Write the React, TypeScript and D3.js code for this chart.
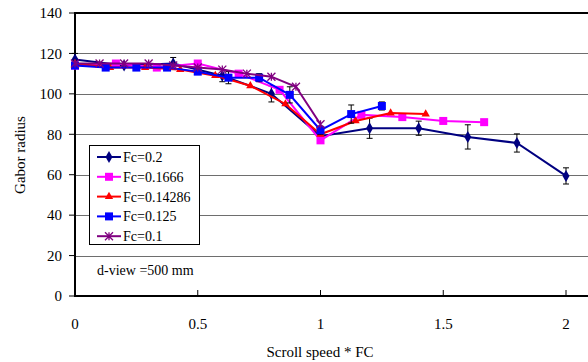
import { useEffect, useRef } from 'react';
import * as d3 from 'd3';

// Fc = 0.2 (navy diamonds, with error bars)
const fc02X = [0, 0.2, 0.4, 0.6, 0.8, 1.0, 1.2, 1.4, 1.6, 1.8, 2.0];
const fc02Y = [117, 114, 115, 109, 100, 79, 83, 83, 78.7, 75.7, 59.4];
const fc02Err = [3, 1, 3, 3, 4, 3, 5, 3.5, 6, 4.5, 4];

// Fc = 0.1666 (magenta squares)
const fc1666X = [0, 0.1666, 0.3333, 0.5, 0.6666, 0.8333, 1.0, 1.1666, 1.3333, 1.5, 1.6666];
const fc1666Y = [114, 115, 113, 115, 110, 102, 77, 89.6, 88.5, 86.6, 86];

// Fc = 0.14286 (red triangles)
const fc14X = [0, 0.14286, 0.28571, 0.42857, 0.57143, 0.71429, 0.85714, 1.0, 1.14286, 1.28571, 1.42857];
const fc14Y = [115, 113, 113, 112, 109, 104, 95, 80, 86.6, 90.5, 90];

// Fc = 0.125 (blue squares, with error bars)
const fc125X = [0, 0.125, 0.25, 0.375, 0.5, 0.625, 0.75, 0.875, 1.0, 1.125, 1.25];
const fc125Y = [114, 113, 113, 113, 111, 108, 108, 99.5, 82, 90, 94];
const fc125Err = [0, 0, 0, 0, 0, 3, 2, 4, 2, 4.5, 2];

// Fc = 0.1 (purple asterisks)
const fc01X = [0, 0.1, 0.2, 0.3, 0.4, 0.5, 0.6, 0.7, 0.8, 0.9, 1.0];
const fc01Y = [115, 115, 115, 115, 114, 113, 112, 110, 108.5, 103.5, 85];

const yTicks = [0, 20, 40, 60, 80, 100, 120, 140];
const xTicks = [0, 0.5, 1, 1.5, 2];

const series = [
  { name: 'Fc=0.2', xs: fc02X, ys: fc02Y, err: fc02Err, color: '#000080', marker: 'diamond' },
  { name: 'Fc=0.1666', xs: fc1666X, ys: fc1666Y, err: null, color: '#FF00FF', marker: 'square' },
  { name: 'Fc=0.14286', xs: fc14X, ys: fc14Y, err: null, color: '#FF0000', marker: 'triangle' },
  { name: 'Fc=0.125', xs: fc125X, ys: fc125Y, err: fc125Err, color: '#0000FF', marker: 'square' },
  { name: 'Fc=0.1', xs: fc01X, ys: fc01Y, err: null, color: '#800080', marker: 'star' },
];

const FONT = "'Liberation Serif', 'Times New Roman', Times, serif";

function drawMarker(g, type, cx, cy, color) {
  if (type === 'diamond') {
    g.append('path')
      .attr('d', d3.symbol(d3.symbolDiamond, 42)())
      .attr('transform', `translate(${cx},${cy})`)
      .attr('fill', color);
  } else if (type === 'square') {
    g.append('rect')
      .attr('x', cx - 4).attr('y', cy - 4)
      .attr('width', 8).attr('height', 8)
      .attr('fill', color);
  } else if (type === 'triangle') {
    g.append('path')
      .attr('d', d3.symbol(d3.symbolTriangle, 30)())
      .attr('transform', `translate(${cx},${cy})`)
      .attr('fill', color);
  } else {
    const r = 4;
    const p = `M${cx - r},${cy - r}L${cx + r},${cy + r}M${cx - r},${cy + r}L${cx + r},${cy - r}M${cx},${cy - r}L${cx},${cy + r}`;
    g.append('path').attr('d', p).attr('stroke', color).attr('stroke-width', 1.3).attr('fill', 'none');
  }
}

const App = () => {
  const svgRef = useRef(null);

  useEffect(() => {
    const svg = d3.select(svgRef.current);
    svg.selectAll('*').remove();
    svg.attr('font-family', FONT);

    const x = d3.scaleLinear().domain([0, 2.2]).range([75, 75 + 2.2 * 245.5]);
    const y = d3.scaleLinear().domain([0, 140]).range([296, 13]);
    const right = 588;

    // gridlines
    svg.append('g')
      .selectAll('line')
      .data(yTicks.filter(t => t > 0 && t < 140))
      .enter().append('line')
      .attr('x1', x(0)).attr('x2', right)
      .attr('y1', d => Math.round(y(d)) + 0.5).attr('y2', d => Math.round(y(d)) + 0.5)
      .attr('stroke', '#6e6e6e').attr('stroke-width', 1);

    // top border
    svg.append('line')
      .attr('x1', x(0)).attr('x2', right)
      .attr('y1', y(140)).attr('y2', y(140))
      .attr('stroke', '#000').attr('stroke-width', 2);

    // axes
    svg.append('line')
      .attr('x1', x(0)).attr('x2', x(0))
      .attr('y1', y(140) - 1).attr('y2', y(0) + 1)
      .attr('stroke', '#000').attr('stroke-width', 2);
    svg.append('line')
      .attr('x1', x(0) - 1).attr('x2', right)
      .attr('y1', y(0)).attr('y2', y(0))
      .attr('stroke', '#000').attr('stroke-width', 2);

    // y ticks + labels
    const yAx = svg.append('g');
    yTicks.forEach(t => {
      yAx.append('line')
        .attr('x1', x(0) - 6).attr('x2', x(0))
        .attr('y1', y(t)).attr('y2', y(t))
        .attr('stroke', '#000').attr('stroke-width', 1);
      yAx.append('text')
        .attr('x', 62).attr('y', y(t))
        .attr('dy', '0.35em')
        .attr('text-anchor', 'end')
        .attr('font-family', FONT).attr('font-size', 15)
        .text(t);
    });

    // x ticks + labels
    const xAx = svg.append('g');
    xTicks.forEach(t => {
      xAx.append('line')
        .attr('x1', x(t)).attr('x2', x(t))
        .attr('y1', y(0) - 6).attr('y2', y(0))
        .attr('stroke', '#000').attr('stroke-width', 1);
      xAx.append('text')
        .attr('x', x(t)).attr('y', 324)
        .attr('dy', '0.35em')
        .attr('text-anchor', 'middle')
        .attr('font-family', FONT).attr('font-size', 15)
        .text(t);
    });

    // axis titles
    svg.append('text')
      .attr('x', 320).attr('y', 352).attr('dy', '0.35em')
      .attr('text-anchor', 'middle')
      .attr('font-family', FONT).attr('font-size', 15)
      .text('Scroll speed * FC');
    svg.append('text')
      .attr('transform', 'translate(20,155) rotate(-90)')
      .attr('dy', '0.35em')
      .attr('text-anchor', 'middle')
      .attr('font-family', FONT).attr('font-size', 15)
      .text('Gabor radius');

    // series
    const line = d3.line().x(d => x(d[0])).y(d => y(d[1]));
    series.forEach(s => {
      const g = svg.append('g');
      const pts = s.xs.map((v, i) => [v, s.ys[i]]);
      g.append('path')
        .attr('d', line(pts))
        .attr('fill', 'none')
        .attr('stroke', s.color)
        .attr('stroke-width', 2);
      if (s.err) {
        pts.forEach((p, i) => {
          const e = s.err[i];
          if (!e) return;
          const cx = x(p[0]);
          const y1 = y(p[1] - e), y2 = y(p[1] + e);
          g.append('path')
            .attr('d', `M${cx},${y1}L${cx},${y2}M${cx - 3},${y1}L${cx + 3},${y1}M${cx - 3},${y2}L${cx + 3},${y2}`)
            .attr('stroke', '#000').attr('stroke-width', 1).attr('fill', 'none');
        });
      }
      pts.forEach(p => drawMarker(g, s.marker, x(p[0]), y(p[1]), s.color));
    });

    // legend
    const lg = svg.append('g');
    lg.append('rect')
      .attr('x', 89.5).attr('y', 145.5)
      .attr('width', 110).attr('height', 99)
      .attr('fill', '#fff').attr('stroke', '#000').attr('stroke-width', 1);
    series.forEach((s, i) => {
      const cy = 157 + i * 19.8;
      lg.append('line')
        .attr('x1', 97).attr('x2', 121)
        .attr('y1', cy).attr('y2', cy)
        .attr('stroke', s.color).attr('stroke-width', 2);
      drawMarker(lg, s.marker, 109, cy, s.color);
      lg.append('text')
        .attr('x', 123).attr('y', cy).attr('dy', '0.35em')
        .attr('font-family', FONT).attr('font-size', 14)
        .text(s.name);
    });

    svg.append('text')
      .attr('x', 97).attr('y', 270).attr('dy', '0.35em')
      .attr('font-family', FONT).attr('font-size', 14)
      .text('d-view =500 mm');
  }, []);

  return (
    <svg ref={svgRef} width={588} height={362}
      style={{ position: 'absolute', left: 0, top: 0, background: '#fff' }} />
  );
};

export default App;
